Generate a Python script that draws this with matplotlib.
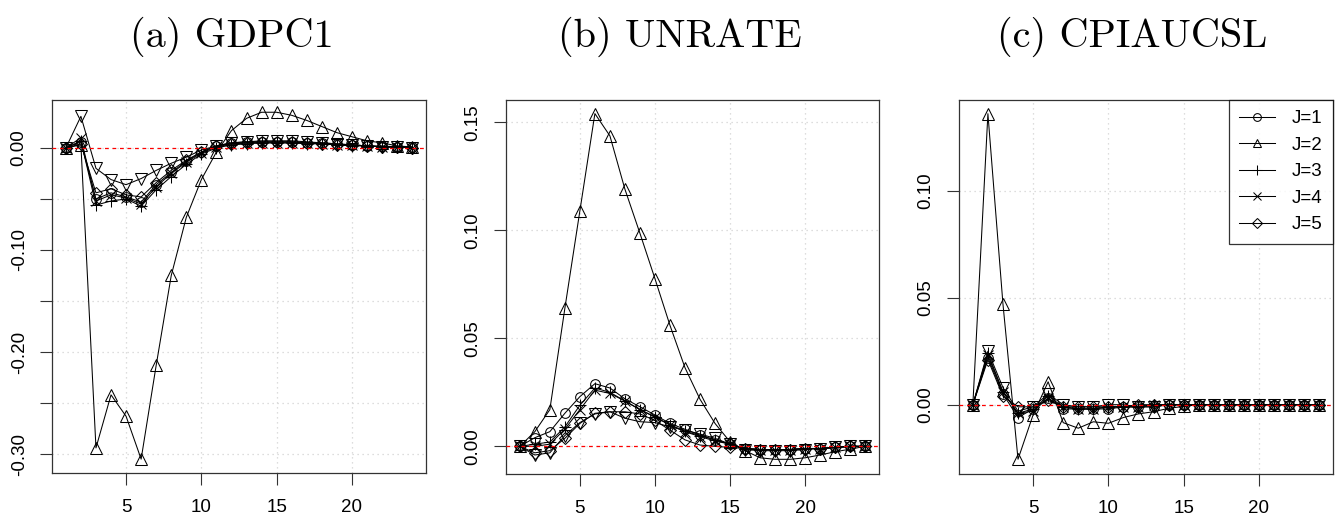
import numpy as np
import matplotlib
matplotlib.use("Agg")
import matplotlib.pyplot as plt

plt.rcParams['font.family'] = ['Liberation Sans', 'DejaVu Sans']

steps = np.arange(1, 25)
labels = ["J=1", "J=2", "J=3", "J=4", "J=5", "J=6"]
titles = ["(a) GDPC1", "(b) UNRATE", "(c) CPIAUCSL"]

# impulse responses, one list per J
gdp_j1 = [0, 0.006, -0.050, -0.044, -0.048, -0.053, -0.036, -0.024, -0.013, -0.004, 0.002, 0.005,
          0.006, 0.006, 0.006, 0.006, 0.005, 0.005, 0.004, 0.003, 0.002, 0.002, 0.001, 0.001]
gdp_j2 = [0, 0.003, -0.294, -0.242, -0.263, -0.305, -0.213, -0.125, -0.068, -0.031, -0.004, 0.017,
          0.029, 0.035, 0.035, 0.032, 0.027, 0.021, 0.015, 0.011, 0.007, 0.005, 0.002, 0.001]
gdp_j3 = [0, 0.007, -0.056, -0.052, -0.050, -0.057, -0.041, -0.028, -0.016, -0.006, 0.000, 0.003,
          0.004, 0.005, 0.005, 0.005, 0.004, 0.004, 0.003, 0.002, 0.002, 0.001, 0.001, 0.000]
gdp_j4 = [0, 0.010, -0.052, -0.046, -0.049, -0.055, -0.038, -0.025, -0.014, -0.005, 0.001, 0.004,
          0.005, 0.005, 0.005, 0.005, 0.005, 0.004, 0.003, 0.003, 0.002, 0.001, 0.001, 0.000]
gdp_j5 = [0, 0.004, -0.044, -0.040, -0.046, -0.048, -0.034, -0.022, -0.012, -0.004, 0.002, 0.004,
          0.005, 0.006, 0.006, 0.006, 0.005, 0.004, 0.003, 0.003, 0.002, 0.001, 0.001, 0.000]
gdp_j6 = [0, 0.031, -0.020, -0.031, -0.036, -0.030, -0.022, -0.015, -0.009, -0.002, 0.002, 0.005,
          0.006, 0.007, 0.007, 0.007, 0.006, 0.005, 0.004, 0.003, 0.002, 0.001, 0.001, 0.000]

unrate_j1 = [0, 0.004, 0.0068, 0.0153, 0.023, 0.029, 0.027, 0.022, 0.0183, 0.0145, 0.0106, 0.0079,
             0.0052, 0.003, 0.001, -0.001, -0.0015, -0.0015, -0.0015, -0.001, -0.001, -0.0005, 0.0, 0.0]
unrate_j2 = [0, 0.0068, 0.017, 0.0639, 0.109, 0.154, 0.1437, 0.119, 0.0986, 0.0776, 0.056, 0.0364,
             0.0218, 0.0106, 0.0021, -0.002, -0.0053, -0.006, -0.006, -0.0053, -0.004, -0.0025, -0.0013, 0.0]
unrate_j3 = [0, 0.001, 0.002, 0.009, 0.019, 0.027, 0.025, 0.021, 0.017, 0.0135, 0.010, 0.007,
             0.005, 0.003, 0.001, -0.001, -0.0015, -0.0015, -0.0015, -0.001, -0.001, -0.0005, 0.0, 0.0]
unrate_j4 = [0, 0.000, 0.001, 0.008, 0.017, 0.026, 0.0245, 0.021, 0.017, 0.0137, 0.0098, 0.0068,
             0.0045, 0.0025, 0.001, -0.001, -0.0015, -0.0015, -0.0015, -0.001, -0.001, -0.0005, 0.0, 0.0]
unrate_j5 = [0, -0.003, -0.002, 0.0037, 0.0106, 0.0153, 0.016, 0.016, 0.015, 0.012, 0.0075, 0.003,
             0.0006, 0.0, -0.0005, -0.001, -0.0015, -0.0015, -0.0015, -0.001, -0.001, -0.0005, 0.0, 0.0]
unrate_j6 = [0, -0.004, -0.003, 0.005, 0.011, 0.015, 0.016, 0.013, 0.0114, 0.011, 0.009, 0.0075,
             0.0057, 0.0037, 0.001, -0.0015, -0.002, -0.002, -0.002, -0.0015, -0.001, -0.0005, 0.0, 0.0]

cpi_j1 = [0, 0.022, 0.005, -0.006, -0.002, 0.003, -0.002, -0.002, -0.002, -0.002, -0.001, -0.001,
          -0.001, 0.0, 0.0, 0.0, 0.0, 0.0, 0.0, 0.0, 0.0, 0.0, 0.0, 0.0]
cpi_j2 = [0, 0.136, 0.047, -0.0255, -0.0048, 0.0107, -0.0084, -0.011, -0.008, -0.0087, -0.006, -0.0043,
          -0.0033, -0.0017, -0.0008, 0.0, 0.0, 0.0, 0.0, 0.0, 0.0, 0.0, 0.0, 0.0]
cpi_j3 = [0, 0.024, 0.006, -0.004, -0.002, 0.004, -0.001, -0.002, -0.002, -0.001, -0.001, -0.001,
          0.0, 0.0, 0.0, 0.0, 0.0, 0.0, 0.0, 0.0, 0.0, 0.0, 0.0, 0.0]
cpi_j4 = [0, 0.023, 0.006, -0.004, -0.003, 0.003, -0.001, -0.002, -0.002, -0.001, -0.001, -0.001,
          0.0, 0.0, 0.0, 0.0, 0.0, 0.0, 0.0, 0.0, 0.0, 0.0, 0.0, 0.0]
cpi_j5 = [0, 0.021, 0.004, -0.001, -0.001, 0.002, -0.001, -0.001, -0.001, -0.001, -0.001, 0.0,
          0.0, 0.0, 0.0, 0.0, 0.0, 0.0, 0.0, 0.0, 0.0, 0.0, 0.0, 0.0]
cpi_j6 = [0, 0.025, 0.008, -0.003, -0.001, 0.005, 0.000, -0.001, -0.001, 0.000, 0.000, -0.001,
          -0.001, 0.0, 0.0, 0.0, 0.0, 0.0, 0.0, 0.0, 0.0, 0.0, 0.0, 0.0]

panels = [
    [gdp_j1, gdp_j2, gdp_j3, gdp_j4, gdp_j5, gdp_j6],
    [unrate_j1, unrate_j2, unrate_j3, unrate_j4, unrate_j5, unrate_j6],
    [cpi_j1, cpi_j2, cpi_j3, cpi_j4, cpi_j5, cpi_j6],
]
yticks = [
    [0.0, -0.05, -0.10, -0.15, -0.20, -0.25, -0.30],
    [0.0, 0.05, 0.10, 0.15],
    [0.0, 0.05, 0.10],
]
ytick_labels = [
    ["0.00", "", "-0.10", "", "-0.20", "", "-0.30"],
    ["0.00", "0.05", "0.10", "0.15"],
    ["0.00", "0.05", "0.10"],
]
ylims = [(-0.3186, 0.047), (-0.0128, 0.1603), (-0.0324, 0.1424)]

# R pch 1,2,3,4,5,6
markers = ['o', '^', '+', 'x', 'D', 'v']
msizes = [7, 8, 9, 7, 6, 8]

W, H = 1338, 521
fig = plt.figure(figsize=(W / 100, H / 100), dpi=100)
boxes = [(52, 426, 100, 473), (506, 879, 100, 474), (959, 1333, 100, 474)]
title_x = [232, 680, 1132]

for k, (l, r, t, b) in enumerate(boxes):
    ax = fig.add_axes([l / W, 1 - b / H, (r - l) / W, (b - t) / H])
    for j, series in enumerate(panels[k]):
        ax.plot(steps, series, color='black', lw=0.75, marker=markers[j],
                ms=msizes[j], mfc='none', mec='black', mew=0.75,
                label=labels[j] if j < 5 else '_nolegend_')
    ax.axhline(0, color='red', lw=0.9, ls=(0, (3, 3)), zorder=5)
    ax.set_xlim(0.08, 24.92)
    ax.set_ylim(*ylims[k])
    ax.set_xticks([5, 10, 15, 20])
    ax.set_yticks(yticks[k])
    ax.set_yticklabels(ytick_labels[k], rotation=90, va='center')
    ax.grid(True, color='#d3d3d3', ls=(0, (1, 3)), lw=0.9)
    ax.set_axisbelow(True)
    ax.tick_params(length=8.5, width=0.8, labelsize=13.5, color='#333333')
    ax.tick_params(axis='x', pad=10)
    ax.tick_params(axis='y', pad=9)
    for s in ax.spines.values():
        s.set_linewidth(0.9)
        s.set_color('#333333')
    fig.text(title_x[k] / W, 1 - 47 / H, titles[k], family='cmr10', fontsize=29,
             ha='center', va='baseline')
    if k == 2:
        leg = ax.legend(loc='upper right', borderaxespad=0, fancybox=False,
                        edgecolor='black', fontsize=13.5, handlelength=1.9,
                        labelspacing=0.5, markerscale=0.8, borderpad=0.55,
                        handletextpad=0.9)
        leg.get_frame().set_linewidth(0.9)

fig.savefig("out.png", dpi=100)
